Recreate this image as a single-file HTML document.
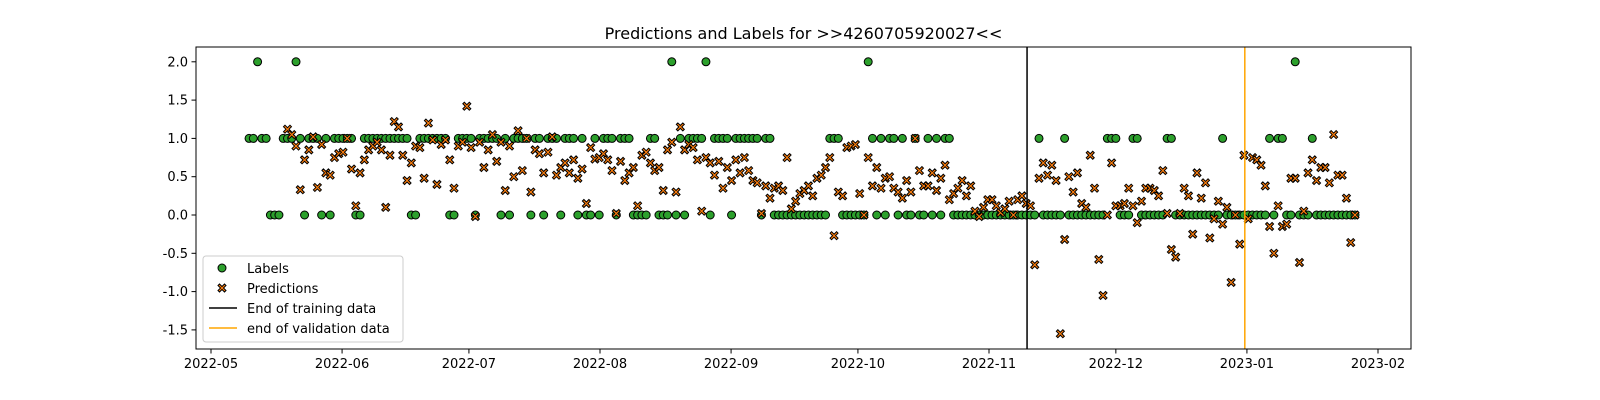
<!DOCTYPE html>
<html><head><meta charset="utf-8"><style>
body{margin:0;background:#fff;}
svg{display:block;font-family:"DejaVu Sans","Liberation Sans",sans-serif;}
</style></head><body>
<svg id="chart" width="1600" height="400" xmlns="http://www.w3.org/2000/svg">
<rect width="1600" height="400" fill="#fff"/>
<text x="803.5" y="39" font-size="16" text-anchor="middle">Predictions and Labels for &gt;&gt;4260705920027&lt;&lt;</text>
<g id="grid"></g><g id="marks"></g>
<rect x="196" y="47" width="1215" height="302" fill="none" stroke="#000" stroke-width="1"/>
<g id="axes"></g>
<g>
<rect x="203" y="256" width="200" height="86" rx="3" fill="#fff" fill-opacity="0.8" stroke="#ccc"/>
<circle cx="222" cy="268" r="4" fill="#2ca02c" stroke="#000"/>
<text x="247" y="273" font-size="13">Labels</text>
<path transform="translate(222,288)" d="M-4,-2.5 L-2.5,-4 L0,-1.5 L2.5,-4 L4,-2.5 L1.5,0 L4,2.5 L2.5,4 L0,1.5 L-2.5,4 L-4,2.5 L-1.5,0Z" fill="#ff7f0e" stroke="#000" stroke-width="1"/>
<text x="247" y="293" font-size="13">Predictions</text>
<line x1="209" y1="308" x2="237" y2="308" stroke="#000" stroke-width="1.5"/>
<text x="247" y="313" font-size="13">End of training data</text>
<line x1="209" y1="328" x2="237" y2="328" stroke="#ffa500" stroke-width="1.5"/>
<text x="247" y="333" font-size="13">end of validation data</text>
</g>
</svg>
<script>
const startDay = 9; // data starts 2022-05-10 (days since 2022-05-01)
const labels = [1,1,2,1,1,0,0,0,1,1, 1,2,1,0,1,1,1,0,1,0, 1,1,1,1,1,0,0,1,1,1, 1,1,1,1,1,1,1,1,0,0,
1,1,1,1,1,1,1,0,0,1, 1,1,1,0,1,1,1,1,1,0, 1,0,1,1,1,1,0,1,1,0, 1,1,1,0,1,1,1,0,1,0,
0,1,0,1,1,1,0,1,1,1, 0,0,0,0,1,1,0,0,0,2, 0,1,0,1,1,1,1,2,0,1, 1,1,1,0,1,1,1,1,1,1,
0,1,1,0,0,0,0,0,0,0, 0,0,0,0,0,0,1,1,1,0, 0,0,0,0,0,2,1,0,1,0, 1,1,0,1,0,0,1,0,0,1,
0,1,0,1,1,0,0,0,0,0, 0,0,0,0,0,0,0,0,0,0, 0,0,0,0,0,1,0,0,0,0, 0,1,0,0,0,0,0,0,0,0,
0,1,1,1,0,0,0,1,1,0, 0,0,0,0,0,1,1,0,0,0, 0,0,0,0,0,0,0,0,1,0, 0,0,0,0,0,0,0,0,0,1,
0,1,1,0,0,2,0,0,0,1, 0,0,0,0,0,0,0,0,0,0];
const predictions = [null,null,null,null,null,null,null,null,null,1.12,
1.05,0.9,0.33,0.72,0.85,1.02,0.36,0.92,0.55,0.52, 0.75,0.8,0.82,1.0,0.6,0.12,0.55,0.72,0.85,0.9,
0.95,0.85,0.1,0.78,1.22,1.15,0.78,0.45,0.68,0.9, 0.88,0.48,1.2,0.98,0.4,0.92,0.98,0.72,0.35,0.9,
0.95,1.42,0.88,-0.02,0.95,0.62,0.85,1.05,0.7,0.95, 0.32,0.9,0.5,1.1,0.58,1.0,0.3,0.85,0.8,0.55,
0.82,1.02,0.52,0.62,0.68,0.55,0.72,0.48,0.6,0.15, 0.88,0.73,0.75,0.8,0.72,0.58,0.02,0.7,0.45,0.55,
0.62,0.12,0.78,0.82,0.68,0.58,0.62,0.32,0.85,0.95, 0.3,1.15,0.85,0.92,0.88,0.72,0.05,0.75,0.68,0.52,
0.7,0.35,0.62,0.45,0.72,0.55,0.75,0.58,0.45,0.42, 0.02,0.38,0.22,0.35,0.38,0.32,0.75,0.08,0.18,0.28,
0.32,0.38,0.25,0.48,0.52,0.62,0.75,-0.27,0.3,0.25, 0.88,0.9,0.92,0.28,0.0,0.75,0.38,0.62,0.35,0.48,
0.5,0.35,0.3,0.22,0.45,0.3,1.0,0.58,0.38,0.38, 0.55,0.32,0.48,0.65,0.2,0.28,0.35,0.45,0.25,0.38,
0.05,-0.02,0.1,0.2,0.2,0.12,0.03,0.08,0.18,0.0, 0.2,0.25,0.15,0.12,-0.65,0.48,0.68,0.52,0.65,0.45,
-1.55,-0.32,0.5,0.3,0.55,0.15,0.1,0.78,0.35,-0.58, -1.05,0.0,0.68,0.12,0.12,0.15,0.35,0.12,-0.1,0.18,
0.35,0.35,0.32,0.25,0.58,0.02,-0.45,-0.55,0.02,0.35, 0.25,-0.25,0.55,0.22,0.42,-0.3,-0.05,0.18,-0.12,0.1,
-0.88,0.0,-0.38,0.78,-0.05,0.75,0.72,0.65,0.38,-0.15, -0.5,0.12,-0.15,-0.12,0.48,0.48,-0.62,0.05,0.55,0.72,
0.45,0.62,0.62,0.42,1.05,0.52,0.52,0.22,-0.36,0.0];
const xTickLabels = ["2022-05","2022-06","2022-07","2022-08","2022-09","2022-10","2022-11","2022-12","2023-01","2023-02"];
const xTickDays = [0,31,61,92,123,153,184,214,245,276];
const yTicks = [2.0,1.5,1.0,0.5,0.0,-0.5,-1.0,-1.5];
const trainingEndDay = 193;
const validationEndDay = 244.5;
const dayScale = (1378-211)/276;
const dayStep = 4.27/dayScale;
function xs(day){return 211 + day*dayScale;}
function ys(v){return 215 - v*76.6;}
const NS="http://www.w3.org/2000/svg";
const marks=document.getElementById('marks'), axes=document.getElementById('axes');
function mk(tag,attrs,parent){const e=document.createElementNS(NS,tag);for(const k in attrs)e.setAttribute(k,attrs[k]);parent.appendChild(e);return e;}
xTickDays.forEach((d,i)=>{const x=xs(d);
 const t=mk('line',{x1:x,y1:349,x2:x,y2:353.5,stroke:'#000'},axes);
 
 
 const l=mk('text',{x:x,y:368,'font-size':13,'text-anchor':'middle'},axes);l.textContent=xTickLabels[i];
 
 
});
yTicks.forEach(v=>{const y=ys(v);
 const t=mk('line',{x1:191.5,y1:y,x2:196,y2:y,stroke:'#000'},axes);
 
 
 const l=mk('text',{x:188,y:y+4.5,'font-size':13,'text-anchor':'end'},axes);l.textContent=v.toFixed(1);
 
 
});
labels.forEach((v,i)=>{if(v==null)return;
 const c=mk('circle',{cx:xs(startDay+i*dayStep),cy:ys(v),r:4,fill:'#2ca02c',stroke:'#000','stroke-width':1},marks);
 
 
});
const XP="M-4,-2.5 L-2.5,-4 L0,-1.5 L2.5,-4 L4,-2.5 L1.5,0 L4,2.5 L2.5,4 L0,1.5 L-2.5,4 L-4,2.5 L-1.5,0Z";
predictions.forEach((v,i)=>{if(v==null)return;
 const p=mk('path',{d:XP,transform:`translate(${xs(startDay+i*dayStep)},${ys(v)})`,fill:'#ff7f0e',stroke:'#000','stroke-width':1},marks);
 
 
});
const tl=mk('line',{x1:xs(trainingEndDay),y1:47,x2:xs(trainingEndDay),y2:349,stroke:'#000','stroke-width':1.5},marks);


const vl=mk('line',{x1:xs(validationEndDay),y1:47,x2:xs(validationEndDay),y2:349,stroke:'#ffa500','stroke-width':1.5},marks);


</script>
</body></html>
